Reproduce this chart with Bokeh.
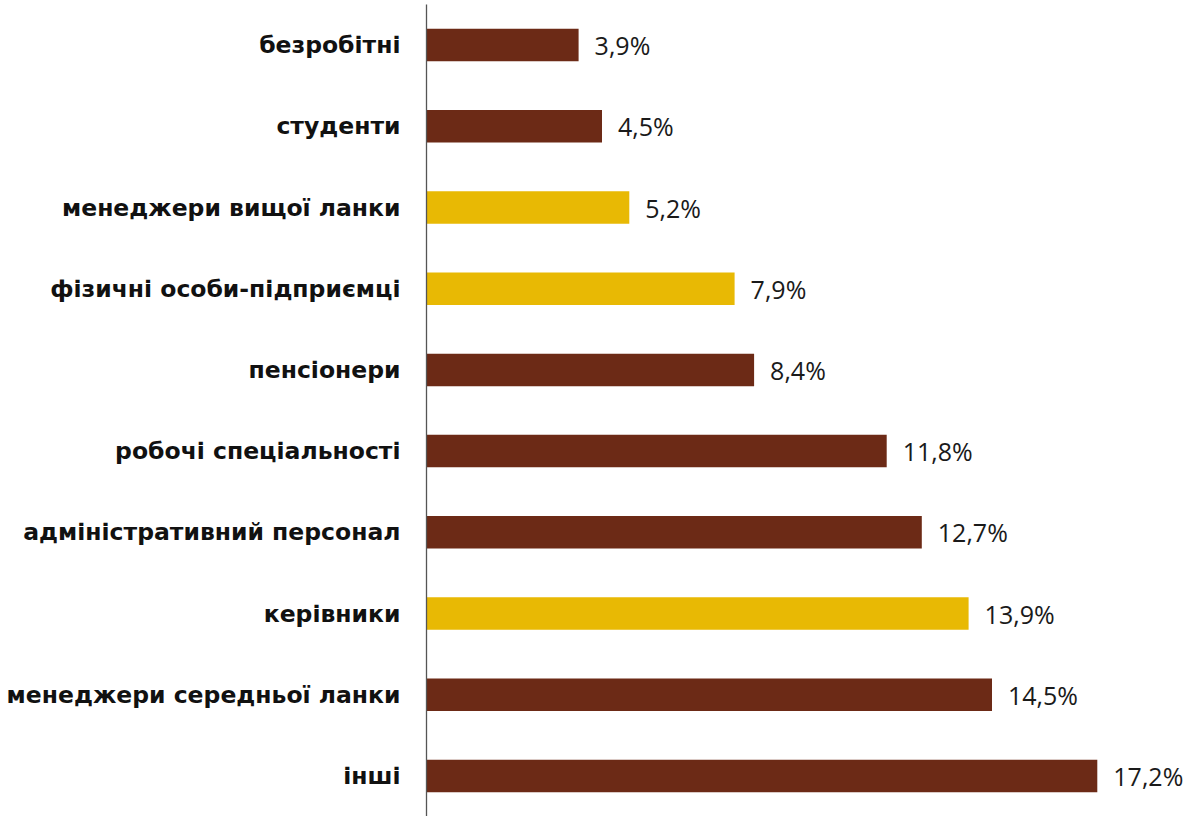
from bokeh.plotting import figure
from bokeh.models import FactorRange, Range1d, ColumnDataSource
from bokeh.core.properties import value
from bokeh.embed import file_html
from bokeh.resources import INLINE

categories = ["безробітні", "студенти", "менеджери вищої ланки", "фізичні особи-підприємці",
              "пенсіонери", "робочі спеціальності", "адміністративний персонал", "керівники",
              "менеджери середньої ланки", "інші"]
values = [3.9, 4.5, 5.2, 7.9, 8.4, 11.8, 12.7, 13.9, 14.5, 17.2]
highlight = [False, False, True, True, False, False, False, True, False, False]

BROWN = "#6C2A16"
GOLD = "#E8B904"
colors = [GOLD if h else BROWN for h in highlight]
labels = [("%.1f" % v).replace(".", ",") + "%" for v in values]

src = ColumnDataSource(dict(cat=categories, val=values, color=colors, label=labels))

p = figure(width=1191, height=816, output_backend="svg", toolbar_location=None,
           y_range=FactorRange(factors=list(reversed(categories))),
           x_range=Range1d(0, 765 / 39.0),
           min_border_left=426, min_border_right=0, min_border_top=4, min_border_bottom=0)

p.hbar(y="cat", right="val", height=0.40, left=0, color="color", source=src, line_color=None)
p.text(x="val", y="cat", text="label", source=src, x_offset=16, text_baseline="middle",
       text_align="left", text_font=value("Open Sans"), text_font_size="25px", text_color="#1a1a1a")

p.xaxis.visible = False
p.xgrid.visible = False
p.ygrid.visible = False
p.outline_line_color = None
p.yaxis.axis_line_color = "#555555"
p.yaxis.axis_line_width = 1.3
p.yaxis.major_tick_line_color = None
p.yaxis.minor_tick_line_color = None
p.yaxis.major_tick_out = 0
p.yaxis.major_tick_in = 0
p.yaxis.major_label_standoff = 26
p.yaxis.major_label_text_font = "DejaVu Sans"
p.yaxis.major_label_text_font_style = "bold"
p.yaxis.major_label_text_font_size = "23.5px"
p.yaxis.major_label_text_color = "#111111"

open("out.html", "w").write(file_html(p, INLINE))
